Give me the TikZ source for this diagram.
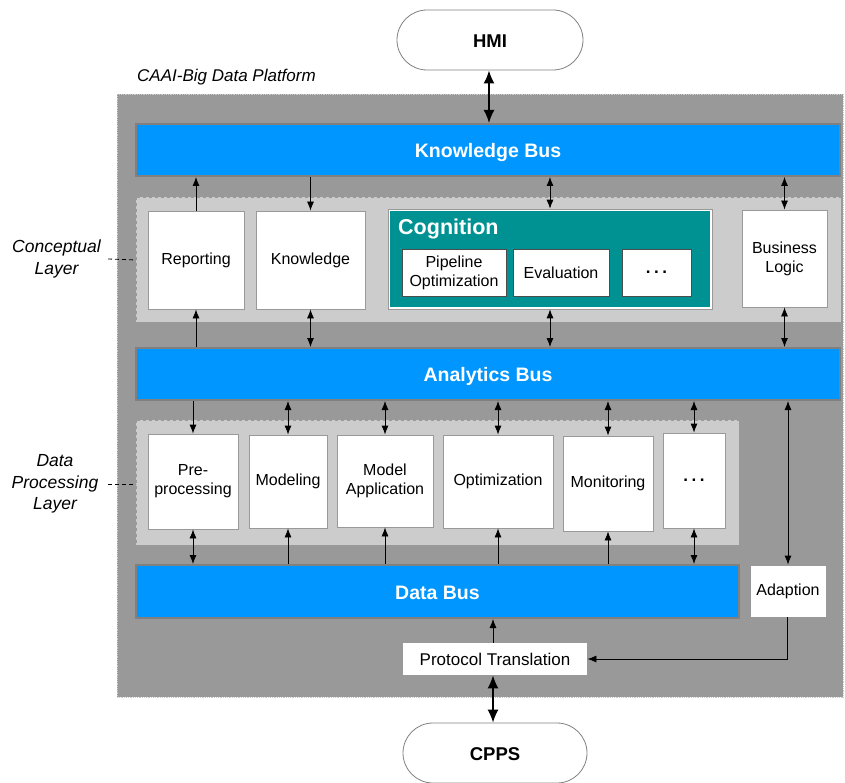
\documentclass[tikz,border=0pt]{standalone}
\usepackage{fontspec}
\setmainfont{Liberation Sans}
\usetikzlibrary{arrows.meta,positioning,calc}
\definecolor{outerfill}{HTML}{999999}
\definecolor{layerfill}{HTML}{CCCCCC}
\definecolor{busblue}{HTML}{0096FF}
\definecolor{busedge}{HTML}{808080}
\definecolor{cogteal}{HTML}{009193}
\definecolor{boxedge}{HTML}{999999}
\newcommand{\mydots}{\raisebox{1pt}{\bfseries\fontsize{17}{17}\selectfont .\hspace{3.5pt}.\hspace{3.5pt}.}}
\begin{document}
\begin{tikzpicture}[x=1pt,y=-1pt,
  boxtext/.style={font=\fontsize{16}{19}\selectfont},
  wbox/.style={draw=boxedge, line width=0.8pt, fill=white, inner sep=0pt, align=center, boxtext},
  bus/.style={draw=busedge, line width=2pt, fill=busblue, inner sep=0pt, text=white, text height=15pt, text depth=0pt, font=\bfseries\fontsize{19.5}{22}\selectfont},
  term/.style={draw=busedge, line width=0.8pt, fill=white, rounded corners=30pt, inner sep=0pt, text height=15pt, text depth=0pt, font=\bfseries\fontsize{18.5}{22}\selectfont},
  layer/.style={draw=boxedge, dashed, line width=0.8pt, fill=layerfill},
  sidetext/.style={font=\itshape\fontsize{17.5}{21.5}\selectfont, align=center, inner sep=0pt},
  conn/.style={line width=0.8pt, -{Latex[length=9pt,width=7pt]}},
  dconn/.style={line width=0.8pt, {Latex[length=9pt,width=7pt]}-{Latex[length=9pt,width=7pt]}},
  bigconn/.style={line width=1.8pt, {Latex[length=13pt,width=11pt]}-{Latex[length=13pt,width=11pt]}},
  leader/.style={line width=0.8pt, dash pattern=on 4pt off 3pt}
]
\useasboundingbox (0,0) rectangle (845,783);

% outer platform
\draw[draw=layerfill, fill=outerfill, line width=0.8pt, densely dotted] (117,94) rectangle (843,697);
\node[anchor=west, font=\itshape\fontsize{17}{20}\selectfont, inner sep=0pt] (plat) at (137,77) {CAAI-Big Data Platform};

% terminals
\node[term, minimum width=186pt, minimum height=60pt] (hmi) at (490,40) {HMI};
\node[term, minimum width=184pt, minimum height=60pt] (cpps) at (495,753) {CPPS};

% buses
\node[bus, minimum width=704pt, minimum height=52pt] (kb) at (488,150) {Knowledge Bus};
\node[bus, minimum width=704pt, minimum height=52pt] (ab) at (488,374) {Analytics Bus};
\node[bus, minimum width=603pt, minimum height=53pt] (db) at (437.5,591.5) {Data Bus};

% layers
\draw[layer] (136,197) rectangle (841,322);
\coordinate (clw) at (136,260);
\draw[layer] (136,420) rectangle (739,545);
\coordinate (dlw) at (136,484);

% conceptual layer boxes
\node[wbox, minimum width=96pt, minimum height=98pt] (rep) at (196,260) {Reporting};
\node[wbox, minimum width=109pt, minimum height=98pt] (know) at (310.5,260) {Knowledge};
\node[draw=boxedge, line width=0.6pt, fill=white, minimum width=324pt, minimum height=100pt, inner sep=0pt] (cogo) at (550,259) {};
\node[fill=cogteal, minimum width=320pt, minimum height=96pt, inner sep=0pt] (cog) at (550,259) {};
\node[anchor=west, text=white, font=\bfseries\fontsize{21.5}{24}\selectfont, inner sep=0pt] (cogt) at (398,229) {Cognition};
\node[wbox, draw=black!70, minimum width=104pt, minimum height=47pt] (pipe) at (454,272.5) {Pipeline\\Optimization};
\node[wbox, draw=black!70, minimum width=96pt, minimum height=47pt] (eval) at (561,272.5) {Evaluation};
\node[wbox, draw=black!70, minimum width=69pt, minimum height=47pt] (cdots) at (656.5,272.5) {\mydots};
\node[wbox, minimum width=85pt, minimum height=97pt] (bl) at (784.5,258.5) {Business\\Logic};

% data processing boxes
\node[wbox, minimum width=90pt, minimum height=95pt] (pre) at (193,481.5) {Pre-\\processing};
\node[wbox, minimum width=78pt, minimum height=93pt] (mod) at (288,481.5) {Modeling};
\node[wbox, minimum width=96pt, minimum height=92pt] (mapp) at (385,481) {Model\\Application};
\node[wbox, minimum width=110pt, minimum height=93pt] (opt) at (498,481.5) {Optimization};
\node[wbox, minimum width=90pt, minimum height=95pt] (mon) at (608,483.5) {Monitoring};
\node[wbox, minimum width=62pt, minimum height=95pt] (ddots) at (694,480.5) {\mydots};

\node[wbox, minimum width=76pt, minimum height=52pt] (adapt) at (788,591) {Adaption};
\node[wbox, draw=none, minimum width=184pt, minimum height=32pt, font=\fontsize{17}{19}\selectfont] (pt) at (495,659) {Protocol Translation};

% side labels
\node[sidetext] (cltext) at (56.5,259) {Conceptual\\Layer};
\node[sidetext] (dltext) at (55,484) {Data\\Processing\\Layer};
\draw[leader] (cltext.east -| 108,0) -- (clw);
\draw[leader] (dltext.east -| 108,0) -- (dlw);

% connectors: HMI / KB
\draw[bigconn] (hmi.south -| 489,0) -- (kb.north -| 489,0);

% KB <-> conceptual
\draw[conn] (rep.north) -- (rep.north |- kb.south);
\draw[conn] (know.north |- kb.south) -- (know.north);
\draw[dconn] (cogo.north |- kb.south) -- (cogo.north);
\draw[dconn] (bl.north |- kb.south) -- (bl.north);

% conceptual <-> AB
\draw[conn] (rep.south |- ab.north) -- (rep.south);
\draw[dconn] (know.south) -- (know.south |- ab.north);
\draw[dconn] (cogo.south) -- (cogo.south |- ab.north);
\draw[dconn] (bl.south) -- (bl.south |- ab.north);

% AB <-> data processing
\draw[conn] (pre.north |- ab.south) -- (pre.north);
\draw[dconn] (mod.north |- ab.south) -- (mod.north);
\draw[dconn] (mapp.north |- ab.south) -- (mapp.north);
\draw[dconn] (opt.north |- ab.south) -- (opt.north);
\draw[dconn] (mon.north |- ab.south) -- (mon.north);
\draw[dconn] (ddots.north |- ab.south) -- (ddots.north);
\draw[dconn] (adapt.north |- ab.south) -- (adapt.north);

% data processing <-> DB
\draw[dconn] (pre.south) -- (pre.south |- db.north);
\draw[conn] (mod.south |- db.north) -- (mod.south);
\draw[conn] (mapp.south |- db.north) -- (mapp.south);
\draw[conn] (opt.south |- db.north) -- (opt.south);
\draw[conn] (mon.south |- db.north) -- (mon.south);
\draw[dconn] (ddots.south) -- (ddots.south |- db.north);

% bottom
\draw[conn] (pt.north -| 493,0) -- (db.south -| 493,0);
\draw[conn] (adapt.south -| 787,0) |- (pt.east);
\draw[bigconn, line width=1.5pt] (pt.south -| 493,0) -- (cpps.north -| 493,0);
\end{tikzpicture}
\end{document}
